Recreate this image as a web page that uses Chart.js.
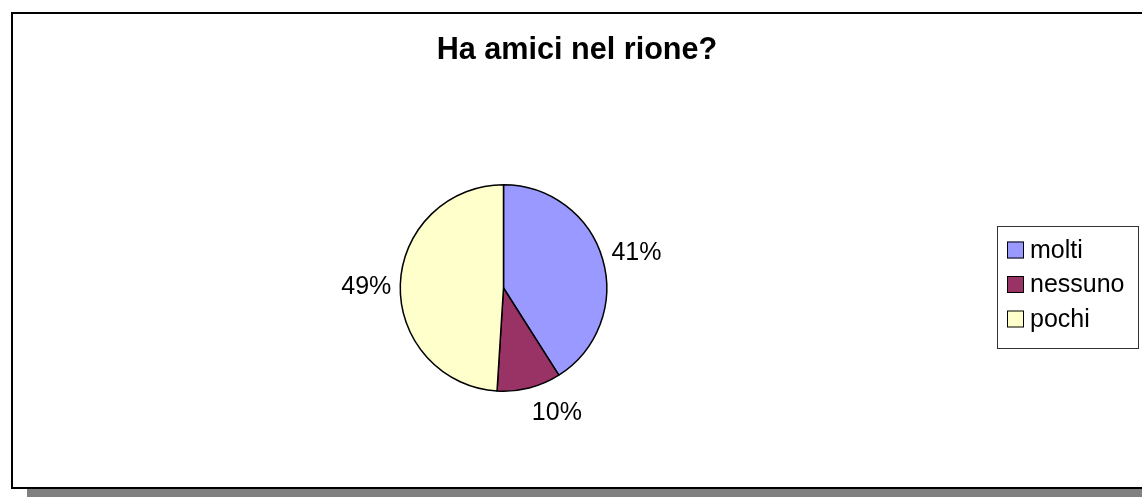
<!DOCTYPE html>
<html>
<head>
<meta charset="utf-8">
<script src="https://cdn.jsdelivr.net/npm/chart.js@4.4.1/dist/chart.umd.min.js"></script>
<style>
  html, body { margin: 0; padding: 0; background: #ffffff; overflow: hidden; }
  #frame {
    position: absolute; left: 11px; top: 12px; width: 1160px; height: 473px;
    border: 2px solid #000; background: #fff;
    box-shadow: 16px 9px 0 #808080;
  }
  #chart { position: absolute; left: 0; top: 0; }
</style>
</head>
<body>
<div id="frame"></div>
<canvas id="chart" width="1142" height="497"></canvas>
<script>
// Survey answers: "Ha amici nel rione?"
const categories = ['molti', 'nessuno', 'pochi'];
const shares = [41, 10, 49];
const sliceColors = ['#9999FF', '#993366', '#FFFFCC'];
const chartTitle = 'Ha amici nel rione?';

const FONT = '"Liberation Sans", Arial, sans-serif';
const clamp = (v) => Math.max(-1, Math.min(1, v));

// Title, outside-end percentage labels and a boxed legend
const decorations = {
  id: 'decorations',
  afterDatasetsDraw(chart) {
    const ctx = chart.ctx;
    ctx.save();

    // title
    ctx.fillStyle = '#000';
    ctx.font = 'bold 30.6px ' + FONT;
    ctx.textAlign = 'center';
    ctx.textBaseline = 'middle';
    ctx.fillText(chartTitle, 577, 51);

    // percentage labels: the label box hangs off an anchor point
    // a little outside the rim, on the bisector of its slice
    ctx.font = '25px ' + FONT;
    const meta = chart.getDatasetMeta(0);
    const total = shares.reduce((a, b) => a + b, 0);
    meta.data.forEach((arc, i) => {
      const p = arc.getProps(['x', 'y', 'startAngle', 'endAngle', 'outerRadius'], true);
      const mid = (p.startAngle + p.endAngle) / 2;
      const text = Math.round(shares[i] / total * 100) + '%';
      const w = ctx.measureText(text).width;
      const h = 22;
      const dx = Math.cos(mid), dy = Math.sin(mid);
      const R = p.outerRadius + 12 - 3 * Math.abs(dx);
      const ax = p.x + dx * R, ay = p.y + dy * R;
      const cx = ax + (w / 2) * clamp(dx * 4);
      const cy = ay + (h / 2) * clamp(dy * 2) + 3;
      ctx.fillText(text, cx, cy);
    });

    // legend
    const lx = 997, ly = 226, lw = 141, lh = 122;
    ctx.strokeStyle = '#333';
    ctx.lineWidth = 1;
    ctx.strokeRect(lx + 0.5, ly + 0.5, lw, lh);
    ctx.textAlign = 'left';
    categories.forEach((name, i) => {
      const cy = 250 + i * 34.5;
      ctx.fillStyle = sliceColors[i];
      ctx.fillRect(1007, cy - 8.5, 17, 17);
      ctx.strokeStyle = '#000';
      ctx.strokeRect(1007.5, cy - 8, 16, 16);
      ctx.fillStyle = '#000';
      ctx.fillText(name, 1030, cy + 1);
    });

    ctx.restore();
  }
};

new Chart(document.getElementById('chart'), {
  type: 'pie',
  data: {
    labels: categories,
    datasets: [{
      data: shares,
      backgroundColor: sliceColors,
      borderColor: '#000',
      borderWidth: 1.5
    }]
  },
  options: {
    responsive: false,
    animation: false,
    devicePixelRatio: 1,
    layout: { padding: { left: 399.5, right: 534.5, top: 184, bottom: 105 } },
    plugins: {
      legend: { display: false },
      title: { display: false },
      tooltip: { enabled: false }
    }
  },
  plugins: [decorations]
});
</script>
</body>
</html>
